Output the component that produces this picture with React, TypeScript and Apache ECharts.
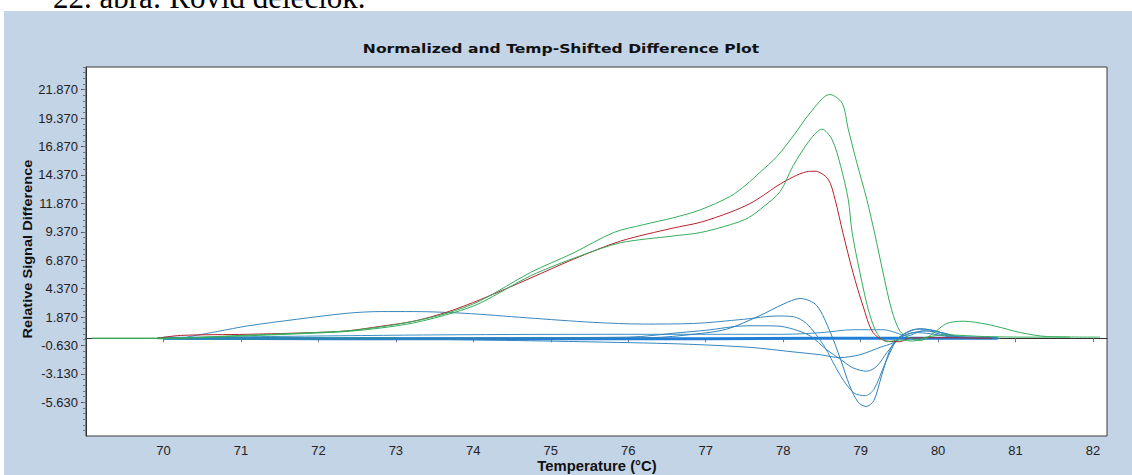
import React, { useEffect, useRef } from "react";
import * as echarts from "echarts";

const chartTitle = "Normalized and Temp-Shifted Difference Plot";
const xAxisName = "Temperature (°C)";
const yAxisName = "Relative Signal Difference";
const captionText = "22. ábra: Rövid deléciók.";

const xTickValues = [70, 71, 72, 73, 74, 75, 76, 77, 78, 79, 80, 81, 82];
const yLabelValues = [21.87, 19.37, 16.87, 14.37, 11.87, 9.37, 6.87, 4.37, 1.87, -0.63, -3.13, -5.63];

// [temperature, relative signal difference]
const greenA: number[][] = [
  [69.08, 0], [70.0, 0], [71.0, 0.25], [71.94, 0.5], [72.37, 0.65], [72.8, 1.0], [73.23, 1.5],
  [73.66, 2.2], [74.09, 3.3], [74.74, 5.8], [75.29, 7.5], [75.81, 9.3], [76.2, 10.0], [76.58, 10.6],
  [76.93, 11.3], [77.32, 12.5], [77.52, 13.5], [77.7, 14.6], [77.92, 16.0], [78.13, 17.8], [78.35, 19.85],
  [78.6, 21.45], [78.76, 20.7], [78.84, 18.4], [78.95, 15.45], [79.08, 12.2], [79.18, 9.25],
  [79.29, 5.75], [79.4, 2.5], [79.51, 0.6], [79.64, 0.0], [79.77, -0.2], [79.94, 0.45],
  [80.11, 1.3], [80.33, 1.5], [80.63, 1.23], [80.89, 0.8], [81.06, 0.5], [81.41, 0.15], [82.09, 0.1],
];
const greenB: number[][] = [
  [69.08, 0], [70.0, 0], [71.0, 0.2], [71.94, 0.45], [72.37, 0.6], [72.8, 0.9], [73.23, 1.35],
  [73.75, 2.26], [74.09, 3.1], [74.74, 5.5], [75.38, 7.25], [75.9, 8.4], [76.58, 9.0], [76.93, 9.3],
  [77.32, 10.0], [77.55, 10.6], [77.75, 11.6], [77.96, 12.9], [78.13, 15.2], [78.35, 17.5], [78.5, 18.4],
  [78.63, 17.5], [78.74, 15.2], [78.84, 12.2], [78.89, 9.3], [78.99, 5.8], [79.1, 2.5],
  [79.21, 0.45], [79.34, -0.3], [79.5, -0.15], [79.68, -0.25], [79.85, 0.1], [80.1, 0.3],
  [80.6, 0.15], [81.2, 0.1], [81.7, 0.1],
];
const redCurve: number[][] = [
  [69.92, 0], [70.22, 0.25], [71.08, 0.35], [71.94, 0.5], [72.37, 0.65], [72.8, 1.05], [73.23, 1.5],
  [73.66, 2.3], [74.09, 3.4], [74.74, 5.3], [75.29, 6.95], [75.9, 8.55], [76.58, 9.7], [76.93, 10.2],
  [77.32, 11.1], [77.57, 11.85], [77.75, 12.6], [77.92, 13.4], [78.13, 14.2], [78.3, 14.65], [78.41, 14.7],
  [78.58, 14.0], [78.67, 12.2], [78.77, 9.3], [78.9, 5.8], [79.03, 2.85], [79.16, 0.5],
  [79.34, -0.25], [79.51, -0.3], [79.62, 0], [80.0, 0.05], [80.7, 0],
];
const blueHump: number[][] = [
  [70.3, 0.1], [70.7, 0.6], [71.08, 1.08], [71.72, 1.67], [72.37, 2.2], [72.8, 2.35], [73.23, 2.35],
  [73.88, 2.2], [74.69, 1.8], [75.55, 1.4], [76.2, 1.25], [76.84, 1.3], [77.49, 1.67], [77.92, 1.96],
  [78.13, 1.9], [78.3, 1.3], [78.52, -0.6], [78.74, -3.3], [78.91, -4.8], [79.06, -5.05],
  [79.17, -4.5], [79.32, -2.15], [79.47, -0.1], [79.6, 0.5], [79.77, 0.85], [79.98, 0.6],
  [80.2, 0.15], [80.6, 0],
];
const bluePeak: number[][] = [
  [70.0, 0], [73.0, -0.05], [75.0, 0], [76.3, 0.05], [76.84, 0.35], [77.27, 0.8], [77.7, 2.0],
  [78.0, 3.0], [78.22, 3.5], [78.43, 2.9], [78.61, 0.5], [78.74, -1.85], [78.86, -4.2],
  [78.97, -5.65], [79.07, -6.0], [79.17, -5.5], [79.27, -3.3], [79.4, -0.7], [79.55, 0.35],
  [79.72, 0.8], [79.9, 0.75], [80.07, 0.45], [80.28, 0.1], [80.7, 0],
];
const blueMid: number[][] = [
  [70.0, 0], [74.0, 0.05], [76.0, 0.1], [76.67, 0.5], [77.0, 0.7], [77.53, 1.1], [77.92, 1.08],
  [78.13, 0.8], [78.35, 0.2], [78.56, -1.0], [78.75, -1.9], [78.9, -2.6], [79.08, -2.9],
  [79.21, -2.45], [79.34, -1.25], [79.51, 0.05], [79.68, 0.5], [79.85, 0.65], [80.03, 0.35],
  [80.24, 0.1], [80.6, 0],
];
const blueSlope: number[][] = [
  [70.0, -0.05], [73.5, -0.1], [74.09, -0.15], [75.38, -0.3], [76.67, -0.5], [77.57, -0.8],
  [78.13, -1.2], [78.48, -1.45], [78.73, -1.7], [78.99, -1.45], [79.25, -0.8], [79.42, -0.4],
  [79.55, 0.2], [79.7, 0.5], [79.9, 0.4], [80.2, 0.1], [80.8, 0],
];
const blueFlat: number[][] = [
  [70.0, 0.05], [73.57, 0.3], [76.0, 0.35], [78.0, 0.35], [78.5, 0.5], [78.9, 0.75], [79.3, 0.75],
  [79.45, 0.5], [79.6, 0.2], [79.8, 0.65], [80.0, 0.55], [80.3, 0.15], [80.67, 0.1],
];
const blueBase: number[][] = [
  [70.0, 0], [74.0, -0.05], [77.0, -0.05], [78.5, 0], [79.5, 0], [80.77, 0],
];
const tealBase: number[][] = [
  [69.92, 0], [71.5, -0.03], [73.0, 0],
];

const FONT = "'Liberation Sans', Arial, sans-serif";

export default function App() {
  const ref = useRef<HTMLDivElement>(null);
  useEffect(() => {
    document.body.style.margin = "0";
    if (!ref.current) return;
    const chart = echarts.init(ref.current, undefined, { renderer: "svg" });

    const minorTicks: number[] = [];
    for (let i = 0; i <= 64; i++) {
      const v = Math.round((-8.13 + i * 0.5) * 100) / 100;
      if (v <= 23.87) minorTicks.push(v);
    }

    const curve = (name: string, data: number[][], color: string, width = 1, z = 2) => ({
      name,
      type: "line",
      data,
      symbol: "none",
      showSymbol: false,
      smooth: 0.3,
      silent: true,
      z,
      lineStyle: { color, width },
    });

    const yMin = -8.6;
    const yMax = 23.87;

    chart.setOption({
      animation: false,
      backgroundColor: "#ffffff",
      graphic: [
        {
          type: "rect",
          shape: { x: 4, y: 11, width: 1128, height: 464 },
          style: { fill: "#c2d4e6" },
          z: -10,
          silent: true,
        },
        {
          type: "text",
          x: 53,
          y: -3,
          style: {
            text: captionText,
            fill: "#000",
            font: "31px 'Liberation Serif', 'Times New Roman', serif",
            textVerticalAlign: "middle",
          },
          silent: true,
        },
        {
          type: "text",
          x: 561,
          y: 48,
          scaleX: 1.2,
          style: {
            text: chartTitle,
            fill: "#111",
            font: "bold 13px 'DejaVu Sans', sans-serif",
            textAlign: "center",
            textVerticalAlign: "middle",
          },
          silent: true,
        },
        {
          type: "text",
          x: 597,
          y: 466,
          scaleX: 1.06,
          style: {
            text: xAxisName,
            fill: "#111",
            font: "bold 14px 'Liberation Sans', Arial, sans-serif",
            textAlign: "center",
            textVerticalAlign: "middle",
          },
          silent: true,
        },
        {
          type: "text",
          x: 28,
          y: 249,
          rotation: Math.PI / 2,
          scaleX: 1.12,
          style: {
            text: yAxisName,
            fill: "#111",
            font: "bold 13px 'Liberation Sans', Arial, sans-serif",
            textAlign: "center",
            textVerticalAlign: "middle",
          },
          silent: true,
        },
      ],
      grid: {
        left: 86,
        right: 25,
        top: 67,
        bottom: 39,
        show: true,
        containLabel: false,
        outerBoundsMode: "none",
        backgroundColor: "#ffffff",
        borderColor: "#3a3a3a",
        borderWidth: 1,
      },
      xAxis: {
        type: "value",
        min: 69.0,
        max: 82.18,
        axisLine: { show: true, lineStyle: { color: "#333" } },
        axisTick: { show: true, inside: false, length: 4, customValues: xTickValues, lineStyle: { color: "#777" } },
        axisLabel: { customValues: xTickValues, fontSize: 13, color: "#222", margin: 8, fontFamily: FONT },
        splitLine: { show: false },
      },
      yAxis: [
        {
          type: "value",
          min: yMin,
          max: yMax,
          axisLine: { show: true, lineStyle: { color: "#333" } },
          axisTick: { show: true, inside: false, length: 5, customValues: yLabelValues, lineStyle: { color: "#555" } },
          axisLabel: {
            customValues: yLabelValues,
            fontSize: 13,
            color: "#222",
            margin: 8,
            fontFamily: FONT,
            formatter: (v: number) => v.toFixed(3),
          },
          splitLine: { show: false },
        },
        {
          type: "value",
          min: yMin,
          max: yMax,
          position: "left",
          axisLine: { show: false },
          axisTick: { show: true, inside: false, length: 3, customValues: minorTicks, lineStyle: { color: "#777" } },
          axisLabel: { show: false },
          splitLine: { show: false },
        },
      ],
      series: [
        curve("base", blueBase, "#1f7fd8", 3, 1),
        curve("teal", tealBase, "#1a9a78", 2, 1),
        curve("flat", blueFlat, "#3a8ec4", 1, 2),
        curve("slope", blueSlope, "#3585bd", 1, 2),
        curve("mid", blueMid, "#3585bd", 1, 2),
        curve("hump", blueHump, "#3a88bc", 1, 2),
        curve("peak", bluePeak, "#2f80bb", 1, 2),
        curve("red", redCurve, "#b8202c", 1, 3),
        curve("greenB", greenB, "#34ad5a", 1, 4),
        curve("greenA", greenA, "#34ad5a", 1, 4),
      ],
    });
    return () => chart.dispose();
  }, []);
  return <div ref={ref} style={{ width: 1132, height: 475 }} />;
}
